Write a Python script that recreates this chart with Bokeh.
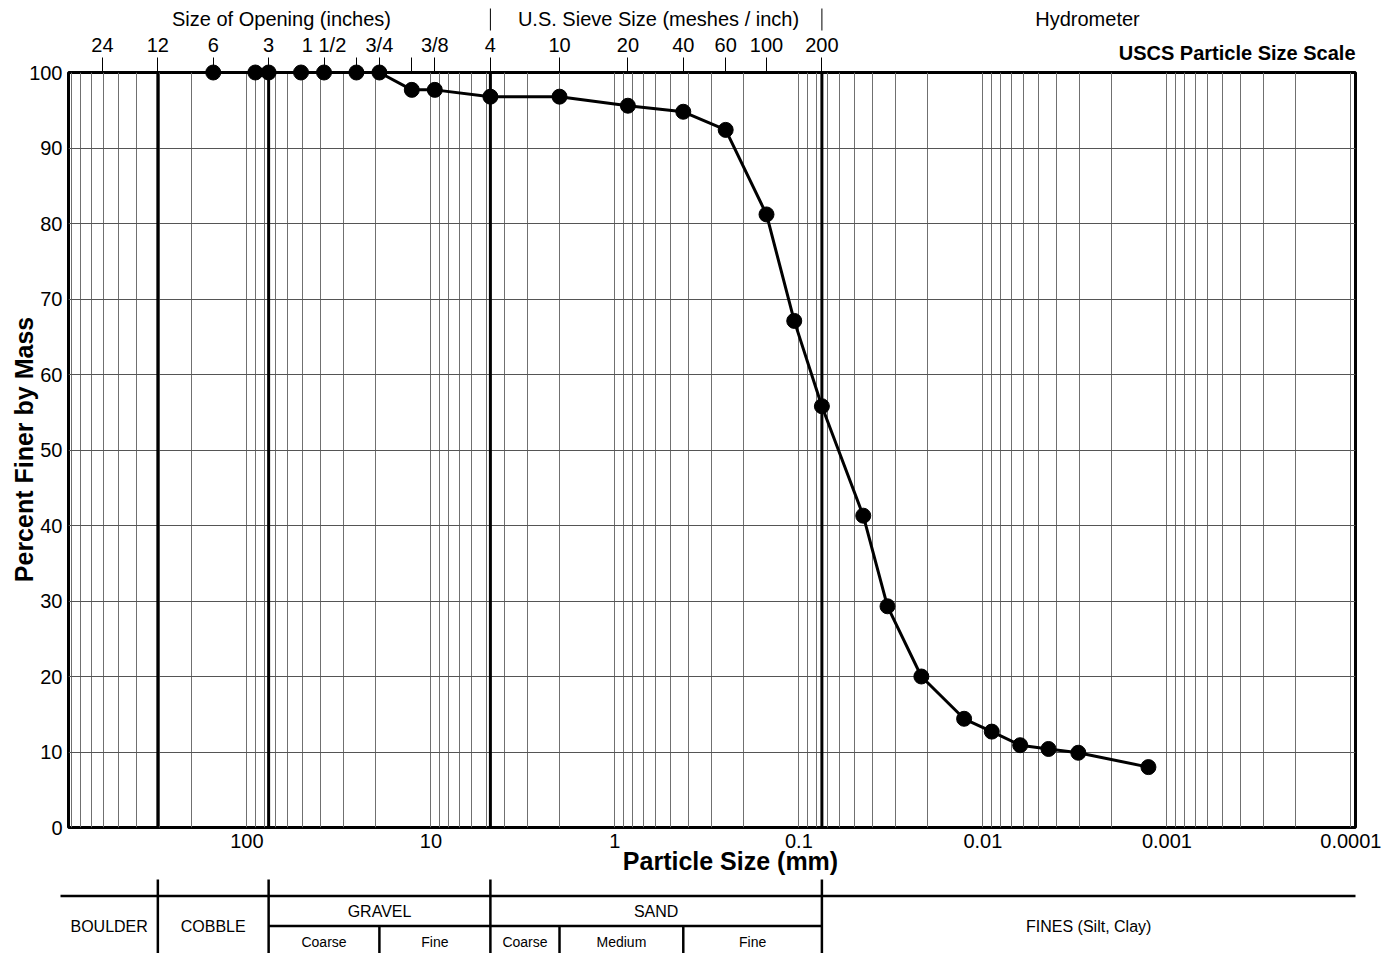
import math
from bokeh.plotting import figure
from bokeh.models import Range1d, FixedTicker, LogAxis
from bokeh.core.properties import value
from bokeh.embed import file_html
from bokeh.resources import INLINE

# ---------------- data ----------------
particle_size_mm = [152.4, 90.0, 76.2, 50.8, 38.1, 25.4, 19.05, 12.7, 9.525, 4.75, 2.0,
                    0.85, 0.425, 0.25, 0.15, 0.106, 0.075,
                    0.0447, 0.0330, 0.0216, 0.01265, 0.00895, 0.00627, 0.0044, 0.00303, 0.00126]
percent_finer = [100, 100, 100, 100, 100, 100, 100, 97.7, 97.7, 96.8, 96.8,
                 95.6, 94.8, 92.4, 81.2, 67.1, 55.8,
                 41.3, 29.3, 20.0, 14.4, 12.7, 10.9, 10.4, 9.9, 8.0]

# top axis: sieve openings (mm) and their labels
sieve_sizes_mm = [609.6, 304.8, 152.4, 76.2, 38.1, 25.4, 19.05, 12.7, 9.525,
                  4.75, 2.0, 0.85, 0.425, 0.25, 0.15, 0.075]
sieve_labels = ["24", "12", "6", "3", "1 1/2", "", "3/4", "", "3/8",
                "4", "10", "20", "40", "60", "100", "200"]

# bottom axis ticks / labels
size_ticks = [100, 10, 1, 0.1, 0.01, 0.001, 0.0001]
size_tick_labels = ["100", "10", "1", "0.1", "0.01", "0.001", "0.0001"]

# y ticks
pct_ticks = [0, 10, 20, 30, 40, 50, 60, 70, 80, 90, 100]

# USCS class boundaries (mm)
uscs_bounds_mm = [304.8, 76.2, 4.75, 0.075]
major_classes = ["BOULDER", "COBBLE", "GRAVEL", "SAND", "FINES (Silt, Clay)"]
sub_bounds_mm = [19.05, 2.0, 0.425]
sub_classes = ["Coarse", "Fine", "Coarse", "Medium", "Fine"]

header_texts = ["Size of Opening (inches)", "U.S. Sieve Size (meshes / inch)", "Hydrometer"]

# ---------------- layout ----------------
W, H = 1385, 953
FL, FR, FT, FB = 68, 1355, 72, 827
LOG_LO, LOG_HI = 2.9696, -4.025
FONT = "Liberation Sans"


def x_at(px):
    return 10 ** (LOG_LO + (px - FL) / (FR - FL) * (LOG_HI - LOG_LO))


def y_at(py):
    return 100.0 * (FB - py) / (FB - FT)


def gmean(a, b):
    return math.sqrt(a * b)


p = figure(width=W, height=H, x_axis_type="log",
           x_range=Range1d(10 ** LOG_LO, 10 ** LOG_HI), y_range=Range1d(0, 100),
           output_backend="svg", toolbar_location=None, title=None,
           min_border_left=FL, min_border_right=W - FR,
           min_border_top=FT, min_border_bottom=H - FB)
p.background_fill_color = "white"
p.border_fill_color = "white"
p.outline_line_color = "black"
p.outline_line_width = 3

# bottom axis
xa = p.xaxis[0]
xa.ticker = FixedTicker(ticks=size_ticks)
xa.major_label_overrides = dict(zip(size_ticks, size_tick_labels))
xa.axis_line_color = None
xa.major_tick_in = 0
xa.major_tick_out = 0
xa.minor_tick_line_color = None
xa.major_label_standoff = 6
xa.major_label_text_font = FONT
xa.major_label_text_font_size = "20px"
xa.major_label_text_color = "black"

# left axis
ya = p.yaxis[0]
ya.ticker = FixedTicker(ticks=pct_ticks)
ya.axis_line_color = None
ya.major_tick_in = 0
ya.major_tick_out = 0
ya.minor_tick_line_color = None
ya.major_label_standoff = 6
ya.major_label_text_font = FONT
ya.major_label_text_font_size = "20px"
ya.major_label_text_color = "black"

# top axis (sieve sizes)
top = LogAxis(ticker=FixedTicker(ticks=sieve_sizes_mm),
              major_label_overrides=dict(zip(sieve_sizes_mm, sieve_labels)),
              axis_line_color=None, major_tick_in=0, major_tick_out=15,
              major_tick_line_color="black", major_tick_line_width=1,
              minor_tick_line_color=None, major_label_standoff=2,
              major_label_text_font=FONT, major_label_text_font_size="20px",
              major_label_text_color="black")
p.add_layout(top, "above")

# grids
grid_vals = [m * 10.0 ** k for k in range(-4, 4) for m in range(1, 10)]
p.xgrid.ticker = FixedTicker(ticks=grid_vals)
p.xgrid.grid_line_color = "#707070"
p.xgrid.grid_line_width = 1
p.ygrid.ticker = FixedTicker(ticks=pct_ticks)
p.ygrid.grid_line_color = "#555555"
p.ygrid.grid_line_width = 1

# USCS boundary lines in the chart
p.segment(x0=uscs_bounds_mm, y0=[0] * 4, x1=uscs_bounds_mm, y1=[100] * 4,
          line_color="black", line_width=3)

# data
p.line(particle_size_mm, percent_finer, line_color="black", line_width=3, level="overlay")
p.scatter(particle_size_mm, percent_finer, size=15, marker="circle",
          fill_color="black", line_color="black", level="overlay")

# header separators and texts
p.segment(x0=[4.75, 0.075], y0=[y_at(8)] * 2, x1=[4.75, 0.075], y1=[y_at(30)] * 2,
          line_color="black", line_width=1, level="overlay")
p.text(x=[x_at(281), x_at(658), x_at(1087)], y=[y_at(18)] * 3, text=header_texts,
       text_align="center", text_baseline="middle", text_font=value(FONT),
       text_font_size="20px", text_color="black", level="overlay")
p.text(x=[x_at(FR)], y=[y_at(52)], text=["USCS Particle Size Scale"],
       text_align="right", text_baseline="middle", text_font=value(FONT),
       text_font_size="20px", text_font_style="bold", text_color="black", level="overlay")

# axis titles
p.text(x=[x_at(730)], y=[y_at(860)], text=["Particle Size (mm)"],
       text_align="center", text_baseline="middle", text_font=value(FONT),
       text_font_size="25px", text_font_style="bold", text_color="black", level="overlay")
p.text(x=[x_at(23)], y=[y_at(449)], text=["Percent Finer by Mass"], angle=math.pi / 2,
       text_align="center", text_baseline="middle", text_font=value(FONT),
       text_font_size="25px", text_font_style="bold", text_color="black", level="overlay")

# ---------------- USCS classification table ----------------
left_edge = x_at(60)
right_edge = x_at(FR)
y_top = y_at(879)
y_main = y_at(895.5)
y_sub = y_at(925.5)
y_bot = y_at(953)

p.segment(x0=[left_edge], y0=[y_main], x1=[right_edge], y1=[y_main],
          line_color="black", line_width=2.5, level="overlay")
p.segment(x0=[uscs_bounds_mm[1]], y0=[y_sub], x1=[uscs_bounds_mm[3]], y1=[y_sub],
          line_color="black", line_width=2.5, level="overlay")
p.segment(x0=uscs_bounds_mm, y0=[y_top] * 4, x1=uscs_bounds_mm, y1=[y_bot] * 4,
          line_color="black", line_width=2.5, level="overlay")
p.segment(x0=sub_bounds_mm, y0=[y_sub] * 3, x1=sub_bounds_mm, y1=[y_bot] * 3,
          line_color="black", line_width=2.5, level="overlay")

edges = [left_edge] + uscs_bounds_mm + [right_edge]
major_x = [gmean(edges[i], edges[i + 1]) for i in range(5)]
major_y = [y_at(926), y_at(926), y_at(911), y_at(911), y_at(926)]
p.text(x=major_x, y=major_y, text=major_classes, text_align="center",
       text_baseline="middle", text_font=value(FONT), text_font_size="16px",
       text_color="black", level="overlay")

sub_edges = [uscs_bounds_mm[1], sub_bounds_mm[0], uscs_bounds_mm[2],
             sub_bounds_mm[1], sub_bounds_mm[2], uscs_bounds_mm[3]]
sub_x = [gmean(sub_edges[i], sub_edges[i + 1]) for i in range(5)]
p.text(x=sub_x, y=[y_at(941)] * 5, text=sub_classes, text_align="center",
       text_baseline="middle", text_font=value(FONT), text_font_size="14px",
       text_color="black", level="overlay")

open("out.html", "w").write(file_html(p, INLINE))
